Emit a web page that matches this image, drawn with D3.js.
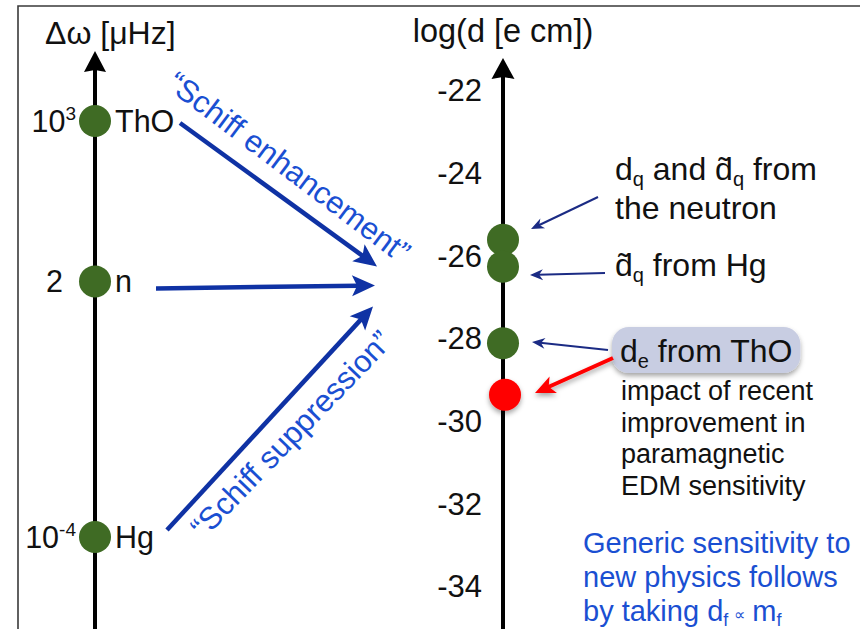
<!DOCTYPE html>
<html><head><meta charset="utf-8">
<script src="https://cdn.jsdelivr.net/npm/d3@7"></script>
<style>html,body{margin:0;padding:0;background:#fff}</style>
</head><body><svg id="c" width="860" height="629"></svg>
<script>
// ---------- DATA ----------
const leftValues = [1e3, 2, 1e-4];
const leftTickBase = ["10", "2", "10"];
const leftTickSup = ["3", "", "-4"];
const leftNames = ["ThO", "n", "Hg"];
const leftDomain = [1e-4, 1e3];

const rightTicks = [-22, -24, -26, -28, -30, -32, -34];
const rightDomain = [-34, -22];
const rightPointNames = ["neutron", "Hg", "ThO", "ThO (recent)"];
const rightPointValues = [-25.6, -26.25, -28.1, -29.35];
const rightPointKinds = ["old", "old", "old", "new"];

const leftTitle = "Δω [μHz]";
const rightTitle = "log(d [e cm])";

// ---------- STYLE / LAYOUT ----------
const FONT = "'Liberation Sans', Arial, Helvetica, sans-serif";
const GREEN = "#3f6b24", RED = "#ff0000";
const BLUE_ARROW = "#0f32a4", BLUE_TEXT = "#1a4fd2", NAVY = "#1b2b84";
const R = 16;

const svg = d3.select("#c").style("font-family", FONT);
svg.append("rect").attr("width", 860).attr("height", 629).attr("fill", "#fff");

const defs = svg.append("defs");
const sh = defs.append("filter").attr("id", "shadow").attr("x", "-50%").attr("y", "-50%").attr("width", "200%").attr("height", "200%");
sh.append("feDropShadow").attr("dx", 0).attr("dy", 3).attr("stdDeviation", 2.5).attr("flood-color", "#000").attr("flood-opacity", 0.35);

// frame
svg.append("path").attr("d", "M18,629 V6 H860").attr("fill", "none").attr("stroke", "#3a3a3a").attr("stroke-width", 1.6);

const yL = d3.scaleLog().domain(leftDomain).range([537, 121]);
const yR = d3.scaleLinear().domain(rightDomain).range([587, 91]);
const xL = 95, xR = 503;

function arrow(g, x1, y1, x2, y2, o) {
  const dx = x2 - x1, dy = y2 - y1, L = Math.hypot(dx, dy);
  const ux = dx / L, uy = dy / L, nx = -uy, ny = ux;
  const bx = x2 - ux * o.hl, by = y2 - uy * o.hl;
  const notch = o.notch == null ? 0.22 : o.notch;
  const mx = x2 - ux * o.hl * (1 - notch), my = y2 - uy * o.hl * (1 - notch);
  const gg = g.append("g");
  if (o.filter) gg.attr("filter", o.filter);
  gg.append("line").attr("x1", x1).attr("y1", y1).attr("x2", mx + ux * 1).attr("y2", my + uy * 1)
    .attr("stroke", o.color).attr("stroke-width", o.w);
  gg.append("path").attr("d", `M${x2},${y2}L${bx + nx * o.hw / 2},${by + ny * o.hw / 2}L${mx},${my}L${bx - nx * o.hw / 2},${by - ny * o.hw / 2}Z`)
    .attr("fill", o.color);
}

// ---------- LEFT AXIS ----------
arrow(svg, xL, 629, xL, 51, {w: 4, hl: 21, hw: 22, color: "#000", notch: 0.1});
svg.append("text").attr("x", 45).attr("y", 44).attr("font-size", 32).attr("fill", "#111").text(leftTitle);

const lp = svg.append("g");
leftValues.forEach((v, i) => {
  const y = yL(v);
  const plain = !leftTickSup[i];
  lp.append("circle").attr("cx", xL).attr("cy", y).attr("r", R).attr("fill", GREEN);
  const t = lp.append("text").attr("x", xL - R - (plain ? 16 : 3)).attr("y", y + 11).attr("text-anchor", "end")
    .attr("font-size", 30.5).attr("fill", "#111");
  t.append("tspan").text(leftTickBase[i]);
  if (leftTickSup[i]) t.append("tspan").attr("font-size", 19).attr("dy", -12).text(leftTickSup[i]);
  lp.append("text").attr("x", xL + R + 4).attr("y", y + 11).attr("font-size", 30.5).attr("fill", "#111").text(leftNames[i]);
});

// ---------- RIGHT AXIS ----------
arrow(svg, xR, 629, xR, 58, {w: 4, hl: 21, hw: 23, color: "#000", notch: 0.1});
svg.append("text").attr("x", xR).attr("y", 42).attr("text-anchor", "middle").attr("font-size", 32.5).attr("fill", "#111").text(rightTitle);

const ax = svg.append("g").attr("transform", `translate(${xR},0)`)
  .call(d3.axisLeft(yR).tickValues(rightTicks).tickSize(0).tickPadding(21).tickFormat(d => String(d).replace("−", "-")));
ax.select(".domain").remove();
ax.selectAll("text").attr("font-size", 31).attr("font-family", FONT).attr("fill", "#111");

const rp = svg.append("g");
rightPointValues.forEach((v, i) => {
  const isNew = rightPointKinds[i] === "new";
  rp.append("circle").attr("cx", xR + (isNew ? 2 : 0)).attr("cy", yR(v)).attr("r", R)
    .attr("fill", isNew ? RED : GREEN).attr("filter", isNew ? "url(#shadow)" : null);
});

// ---------- BIG BLUE ARROWS ----------
const conv = [375, 287];
arrow(svg, 180, yL(leftValues[0]) + 2, conv[0] + 2, yL(leftValues[1]) - 15, {w: 4.5, hl: 23, hw: 21, color: BLUE_ARROW});
arrow(svg, 156, yL(leftValues[1]) + 7, conv[0], yL(leftValues[1]) + 4, {w: 4.5, hl: 23, hw: 21, color: BLUE_ARROW});
arrow(svg, 167, yL(leftValues[2]) - 7, conv[0] - 2, yL(leftValues[1]) + 25, {w: 4.5, hl: 23, hw: 21, color: BLUE_ARROW});

svg.append("text").attr("transform", "translate(289,167) rotate(37)").attr("text-anchor", "middle").attr("dy", "0.35em")
  .attr("font-size", 31).attr("fill", BLUE_TEXT).text("“Schiff enhancement”");
svg.append("text").attr("transform", "translate(291,434) rotate(-46)").attr("text-anchor", "middle").attr("dy", "0.35em")
  .attr("font-size", 31).attr("fill", BLUE_TEXT).text("“Schiff suppression”");

// ---------- RIGHT ANNOTATIONS ----------
const A = svg.append("g").attr("fill", "#111");
function sub(t, s) { t.append("tspan").attr("font-size", 20).attr("dy", 6).text(s); }
function back(t, s) { t.append("tspan").attr("dy", -6).text(s); }

let t = A.append("text").attr("x", 615).attr("y", 180).attr("font-size", 32);
t.append("tspan").text("d"); sub(t, "q"); back(t, " and d\u0303"); sub(t, "q"); back(t, " from");
A.append("text").attr("x", 615).attr("y", 219).attr("font-size", 32).text("the neutron");

t = A.append("text").attr("x", 615).attr("y", 276).attr("font-size", 32);
t.append("tspan").text("d\u0303"); sub(t, "q"); back(t, " from Hg");

// boxed label
const boxG = A.append("g");
const boxRect = boxG.append("rect").attr("fill", "#c8cde2").attr("filter", "url(#shadow)");
t = boxG.append("text").attr("x", 620).attr("y", 362).attr("font-size", 32);
t.append("tspan").text("d"); sub(t, "e"); back(t, " from ThO");
const bb = t.node().getBBox();
boxRect.attr("x", bb.x - 8).attr("y", 327).attr("width", bb.width + 16).attr("height", 46).attr("rx", 17);

const imp = ["impact of recent", "improvement in", "paramagnetic", "EDM sensitivity"];
imp.forEach((s, i) => A.append("text").attr("x", 621).attr("y", 400 + i * 31.5).attr("font-size", 27).text(s));

// thin arrows
arrow(svg, 598, 197, 531, 229, {w: 2, hl: 13, hw: 11, color: NAVY, notch: 0.3});
arrow(svg, 605, 273, 530, 275, {w: 2, hl: 13, hw: 11, color: NAVY, notch: 0.3});
arrow(svg, 608, 350, 532, 342, {w: 2, hl: 13, hw: 11, color: NAVY, notch: 0.3});
arrow(svg, 613, 358, 535, 393, {w: 4, hl: 20, hw: 18, color: RED, notch: 0.25, filter: "url(#shadow)"});

// blue generic text
const G = svg.append("g").attr("fill", BLUE_TEXT).attr("font-size", 29);
G.append("text").attr("x", 583).attr("y", 553).text("Generic sensitivity to");
G.append("text").attr("x", 583).attr("y", 587).text("new physics follows");
t = G.append("text").attr("x", 583).attr("y", 621);
t.append("tspan").text("by taking d");
t.append("tspan").attr("font-size", 18).attr("dy", 5).text("f");
t.append("tspan").attr("font-size", 16).attr("dy", -6).attr("dx", 6).text("∝");
t.append("tspan").attr("dy", 1).attr("dx", 7).text("m");
t.append("tspan").attr("font-size", 18).attr("dy", 5).text("f");
</script></body></html>
